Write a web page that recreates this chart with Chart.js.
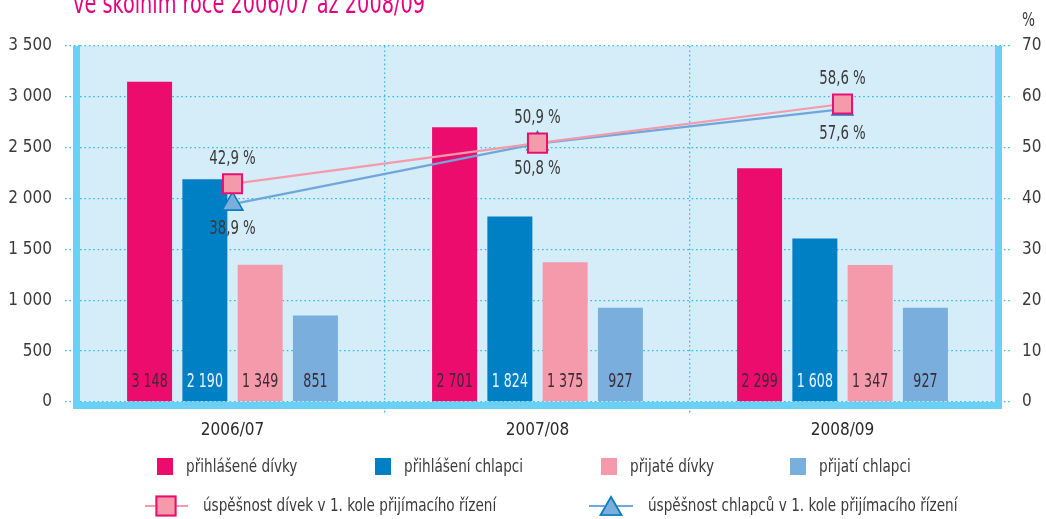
<!DOCTYPE html>
<html>
<head>
<meta charset="utf-8">
<script src="https://cdn.jsdelivr.net/npm/chart.js@4/dist/chart.umd.min.js"></script>
<style>
  html, body { margin: 0; padding: 0; background: #fff; }
  #graf { display: block; }
</style>
</head>
<body>
<canvas id="graf" width="1046" height="519"></canvas>
<script>
// data
const roky = ['2006/07', '2007/08', '2008/09'];
const prihlaseneDivky = [3148, 2701, 2299];
const prihlaseniChlapci = [2190, 1824, 1608];
const prijateDivky = [1349, 1375, 1347];
const prijatiChlapci = [851, 927, 927];
const uspesnostDivek = [42.9, 50.9, 58.6];
const uspesnostChlapcu = [38.9, 50.8, 57.6];
const titulek = 've školním roce 2006/07 až 2008/09';

const FONT = '"DejaVu Sans Condensed", "DejaVu Sans", sans-serif';
const TEXT = '#3a3a3a';
const GRID = '#2cbfee';
const RAM = '#6bd0f6';
const POZADI = '#d5ecf9';
const TECKY = [1.6, 2.8];

const tisice = v => String(v).replace(/\B(?=(\d{3})+(?!\d))/g, ' ');
const procenta = v => v.toFixed(1).replace('.', ',') + ' %';

// text zuzeny vodorovne (puvodni pismo je uzke)
function text(ctx, s, x, y, size, align, sx) {
  ctx.save();
  ctx.font = size + 'px ' + FONT;
  ctx.textAlign = align;
  ctx.translate(x, y);
  ctx.scale(sx, 1);
  ctx.fillText(s, 0, 0);
  ctx.restore();
}

// pozadi plochy grafu
const pozadiPlugin = {
  id: 'pozadi',
  beforeDraw(chart) {
    const { ctx, chartArea: a } = chart;
    ctx.save();
    ctx.fillStyle = POZADI;
    ctx.fillRect(a.left, a.top, a.right - a.left, a.bottom - a.top);
    ctx.restore();
  }
};

// ram + popisky
const popiskyPlugin = {
  id: 'popisky',
  afterDatasetsDraw(chart) {
    const { ctx, chartArea: a } = chart;
    ctx.save();
    ctx.fillStyle = RAM;
    ctx.fillRect(a.left - 7, a.top, 7, a.bottom - a.top + 7);
    ctx.fillRect(a.right, a.top, 7, a.bottom - a.top + 7);
    ctx.fillRect(a.left - 7, a.bottom, a.right - a.left + 14, 7);
    ctx.restore();
  },
  afterDraw(chart) {
    const { ctx, chartArea: a } = chart;
    ctx.save();

    // titulek (orizly nahore)
    ctx.fillStyle = '#e6007e';
    ctx.textBaseline = 'alphabetic';
    ctx.font = '29px ' + FONT;
    const w = ctx.measureText(titulek).width;
    text(ctx, titulek, a.left - 7, 13, 29, 'left', 352 / w);

    // jednotka prave osy
    ctx.fillStyle = TEXT;
    ctx.textBaseline = 'middle';
    text(ctx, '%', 1022, 21, 19, 'left', 0.8);

    // hodnoty ve sloupcich
    for (let d = 0; d < 4; d++) {
      const meta = chart.getDatasetMeta(d);
      const data = chart.data.datasets[d].data;
      meta.data.forEach((bar, i) => {
        ctx.fillStyle = d === 1 ? '#eaf4ff' : '#3d2a33';
        text(ctx, tisice(data[i]), bar.x, a.bottom - 20, 19, 'center', 0.74);
      });
    }

    // hodnoty uspesnosti
    ctx.fillStyle = TEXT;
    chart.getDatasetMeta(4).data.forEach((p, i) => {
      text(ctx, procenta(uspesnostDivek[i]), p.x, p.y - 25, 20, 'center', 0.74);
    });
    chart.getDatasetMeta(5).data.forEach((p, i) => {
      text(ctx, procenta(uspesnostChlapcu[i]), p.x, p.y + 25, 20, 'center', 0.74);
    });

    // legenda
    const ds = chart.data.datasets;
    const radek1 = [157, 375, 601, 790];
    radek1.forEach((x, d) => {
      ctx.fillStyle = ds[d].backgroundColor;
      ctx.fillRect(x, 458, 16, 17);
      ctx.fillStyle = TEXT;
      text(ctx, ds[d].label, x + 29, 467, 18, 'left', 0.84);
    });

    const radek2 = [[145, 188, 166, 203], [589, 633, 611, 648]];
    radek2.forEach(([x1, x2, xm, xt], k) => {
      const d = ds[4 + k];
      ctx.strokeStyle = d.borderColor;
      ctx.lineWidth = 2;
      ctx.beginPath();
      ctx.moveTo(x1, 506);
      ctx.lineTo(x2, 506);
      ctx.stroke();
      Chart.helpers.drawPoint(ctx, {
        pointStyle: d.pointStyle,
        radius: d.pointRadius,
        borderWidth: d.pointBorderWidth
      }, xm, k === 0 ? 506 : 509);
      ctx.fillStyle = d.pointBackgroundColor;
      ctx.strokeStyle = d.pointBorderColor;
      ctx.lineWidth = d.pointBorderWidth;
      ctx.fill();
      ctx.stroke();
      ctx.fillStyle = TEXT;
      text(ctx, d.label, xt, 506, 18, 'left', 0.84);
    });

    ctx.restore();
  }
};

const mriz = {
  tickBorderDash: TECKY,
  lineWidth: 1.3,
  tickWidth: 1.3,
  tickLength: 15
};

new Chart(document.getElementById('graf'), {
  data: {
    labels: roky,
    datasets: [
      { type: 'bar', label: 'přihlášené dívky', data: prihlaseneDivky, backgroundColor: '#eb0c6e', order: 2, yAxisID: 'y' },
      { type: 'bar', label: 'přihlášení chlapci', data: prihlaseniChlapci, backgroundColor: '#0080c4', order: 2, yAxisID: 'y' },
      { type: 'bar', label: 'přijaté dívky', data: prijateDivky, backgroundColor: '#f49aab', order: 2, yAxisID: 'y' },
      { type: 'bar', label: 'přijatí chlapci', data: prijatiChlapci, backgroundColor: '#7aaedc', order: 2, yAxisID: 'y' },
      {
        type: 'line', label: 'úspěšnost dívek v 1. kole přijímacího řízení', data: uspesnostDivek,
        yAxisID: 'y1', order: 0,
        borderColor: '#f49aab', borderWidth: 2.2,
        pointStyle: 'rect', pointRadius: 13.5, pointBorderWidth: 2,
        pointBackgroundColor: '#f49aab', pointBorderColor: '#e8106e'
      },
      {
        type: 'line', label: 'úspěšnost chlapců v 1. kole přijímacího řízení', data: uspesnostChlapcu,
        yAxisID: 'y1', order: 1,
        borderColor: '#6fa7da', borderWidth: 2.2,
        pointStyle: 'triangle', pointRadius: 12, pointBorderWidth: 1.6,
        pointBackgroundColor: '#7aaedc', pointBorderColor: '#0a7cc1'
      }
    ]
  },
  options: {
    responsive: false,
    animation: false,
    layout: { padding: { top: 46, left: 0, right: 0, bottom: 0 } },
    datasets: {
      bar: { categoryPercentage: 0.725, barPercentage: 0.814 }
    },
    plugins: {
      legend: { display: false },
      tooltip: { enabled: false }
    },
    scales: {
      x: {
        offset: true,
        border: { display: false, dash: TECKY },
        grid: {
          offset: true,
          color: c => (c.type === 'tick' && c.index > 0) ? GRID : 'rgba(0,0,0,0)',
          tickColor: c => (c.type === 'tick' && c.index > 0) ? GRID : 'rgba(0,0,0,0)',
          tickBorderDash: TECKY,
          lineWidth: 1.3,
          tickWidth: 1.3,
          tickLength: 13
        },
        ticks: { color: '#2a2a2a', font: { family: FONT, size: 17 }, padding: 5 },
        afterFit(s) { s.height = 117; }
      },
      y: {
        position: 'left',
        min: 0, max: 3500,
        border: { display: false, dash: TECKY },
        grid: Object.assign({ color: GRID, tickColor: GRID }, mriz),
        ticks: {
          stepSize: 500, color: TEXT, padding: 13,
          font: { family: FONT, size: 17 },
          callback: v => tisice(v)
        },
        afterFit(s) { s.width = 80; }
      },
      y1: {
        position: 'right',
        min: 0, max: 70,
        border: { display: false, dash: TECKY },
        grid: Object.assign({ color: GRID, tickColor: GRID, drawOnChartArea: false }, mriz),
        ticks: {
          stepSize: 10, color: TEXT, padding: 12,
          font: { family: FONT, size: 17 }
        },
        afterFit(s) { s.width = 51; }
      }
    }
  },
  plugins: [pozadiPlugin, popiskyPlugin]
});
</script>
</body>
</html>
